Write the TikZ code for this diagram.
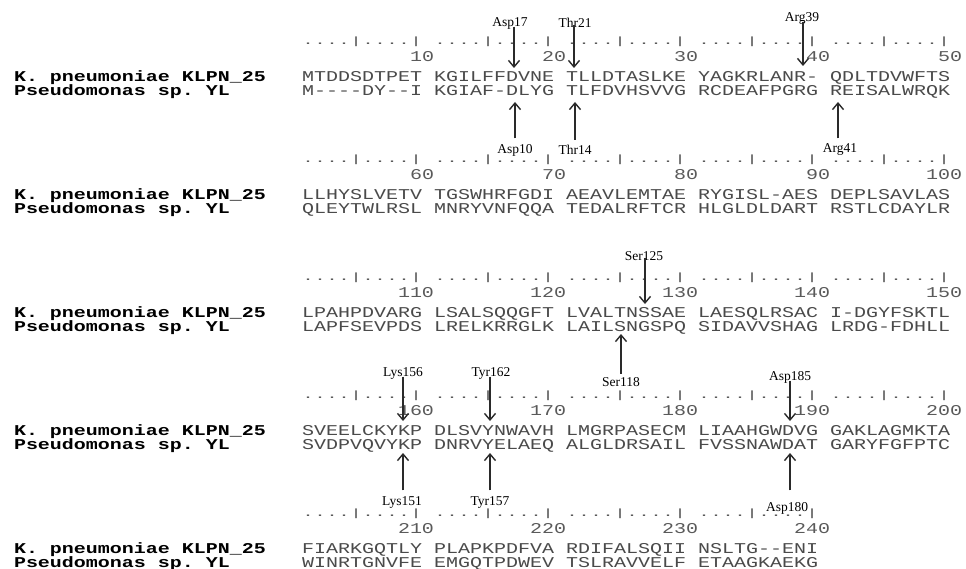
\documentclass[tikz,border=0pt]{standalone}
\usepackage{fontspec}
\usepackage{graphicx}
\usetikzlibrary{arrows.meta}
\newfontfamily\seqfont[FakeStretch=1.3333]{Liberation Mono}
\newfontfamily\labfont{Liberation Serif}
\definecolor{seqgray}{HTML}{4A4A4A}
\definecolor{rulgray}{HTML}{5A5A5A}
\definecolor{arrgray}{HTML}{2A2A2A}
\frenchspacing
\newcommand\myseqrow[3]{%
  \foreach \g [count=\i from 0] in {#3} \node[seqtxt] (#1-\i) at ({302+132*\i},#2) {\g};}
\newcommand\mynumrow[3]{%
  \foreach \n [count=\j] in {#3} \node[numtxt] (#1-\j) at ({302+132*\j},#2) {\n};}
\newcommand\myrulrow[3]{%
  \foreach \j in {1,...,#3} \node[rultxt] (#1-\j) at ({302+132*(\j-1)},#2) {\scalebox{1}[0.7]{....|....|}};}
\newcommand\mynames[3]{%
  \node[nametxt] (#1-k) at (14,#2) {K. pneumoniae KLPN\_25};
  \node[nametxt] (#1-p) at (14,#3) {Pseudomonas sp. YL};}
\begin{document}
\begin{tikzpicture}[x=1pt,y=-1pt,
  seqtxt/.style={anchor=base west, inner sep=0pt, outer sep=0pt, font=\seqfont\fontsize{15}{15}\selectfont, text=seqgray},
  rultxt/.style={seqtxt, text=rulgray},
  numtxt/.style={seqtxt, anchor=base east, text=rulgray},
  nametxt/.style={seqtxt, font=\seqfont\bfseries\fontsize{15}{15}\selectfont, text=black},
  lab/.style={font=\labfont\fontsize{13.5}{14}\selectfont, inner sep=0.5pt, text=black},
  arr/.style={draw=arrgray, line width=1.4pt, -{Straight Barb[length=6.5pt,width=11pt]}}]
\fill[white] (0,0) rectangle (966,569);
\useasboundingbox (0,0) rectangle (966,569);
% ---- block 1
\myrulrow{r1}{44.5}{5}
\mynumrow{n1}{61.5}{10,20,30,40,50}
\mynames{nm1}{81.5}{95.5}
\myseqrow{k1}{81.5}{MTDDSDTPET,KGILFFDVNE,TLLDTASLKE,YAGKRLANR-,QDLTDVWFTS}
\myseqrow{p1}{95.5}{M----DY--I,KGIAF-DLYG,TLFDVHSVVG,RCDEAFPGRG,REISALWRQK}
% ---- block 2
\myrulrow{r2}{162.5}{5}
\mynumrow{n2}{179.5}{60,70,80,90,100}
\mynames{nm2}{199.5}{213.5}
\myseqrow{k2}{199.5}{LLHYSLVETV,TGSWHRFGDI,AEAVLEMTAE,RYGISL-AES,DEPLSAVLAS}
\myseqrow{p2}{213.5}{QLEYTWLRSL,MNRYVNFQQA,TEDALRFTCR,HLGLDLDART,RSTLCDAYLR}
% ---- block 3
\myrulrow{r3}{280.5}{5}
\mynumrow{n3}{297.5}{110,120,130,140,150}
\mynames{nm3}{317.5}{331.5}
\myseqrow{k3}{317.5}{LPAHPDVARG,LSALSQQGFT,LVALTNSSAE,LAESQLRSAC,I-DGYFSKTL}
\myseqrow{p3}{331.5}{LAPFSEVPDS,LRELKRRGLK,LAILSNGSPQ,SIDAVVSHAG,LRDG-FDHLL}
% ---- block 4
\myrulrow{r4}{398.5}{5}
\mynumrow{n4}{415.5}{160,170,180,190,200}
\mynames{nm4}{435.5}{449.5}
\myseqrow{k4}{435.5}{SVEELCKYKP,DLSVYNWAVH,LMGRPASECM,LIAAHGWDVG,GAKLAGMKTA}
\myseqrow{p4}{449.5}{SVDPVQVYKP,DNRVYELAEQ,ALGLDRSAIL,FVSSNAWDAT,GARYFGFPTC}
% ---- block 5
\myrulrow{r5}{516.5}{4}
\mynumrow{n5}{533.5}{210,220,230,240}
\mynames{nm5}{553.5}{567.5}
\myseqrow{k5}{553.5}{FIARKGQTLY,PLAPKPDFVA,RDIFALSQII,NSLTG--ENI}
\myseqrow{p5}{567.5}{WINRTGNVFE,EMGQTPDWEV,TSLRAVVELF,ETAAGKAEKG}
% ---- labels and arrows, block 1
\node[lab] (Lasp17) at (510,23) {Asp17};
\node[lab] (Lthr21) at (575,23) {Thr21};
\node[lab] (Larg39) at (802,18) {Arg39};
\coordinate (Tasp17) at (514,68);
\coordinate (Tthr21) at (574,68);
\coordinate (Targ39) at (803,66);
\draw[arr, shorten <=-3pt] (Lasp17.south -| Tasp17) -- (Tasp17);
\draw[arr, shorten <=-3pt] (Lthr21.south -| Tthr21) -- (Tthr21);
\draw[arr, shorten <=-3pt] (Larg39.south -| Targ39) -- (Targ39);
\node[lab] (Lasp10) at (515,150) {Asp10};
\node[lab] (Lthr14) at (575,150) {Thr14};
\node[lab] (Larg41) at (840,150) {Arg41};
\coordinate (Tasp10) at (515,102);
\coordinate (Tthr14) at (575,102);
\coordinate (Targ41) at (838,102);
\draw[arr, shorten <=5pt] (Lasp10.north -| Tasp10) -- (Tasp10);
\draw[arr, shorten <=5pt] (Lthr14.north -| Tthr14) -- (Tthr14);
\draw[arr, shorten <=5pt] (Larg41.north -| Targ41) -- (Targ41);
% ---- block 3
\node[lab] (Lser125) at (644,256) {Ser125};
\coordinate (Tser125) at (645,304);
\draw[arr, shorten <=-3pt] (Lser125.south -| Tser125) -- (Tser125);
\node[lab] (Lser118) at (621,382) {Ser118};
\coordinate (Tser118) at (621,334);
\draw[arr, shorten <=3pt] (Lser118.north -| Tser118) -- (Tser118);
% ---- block 4
\node[lab] (Llys156) at (403,373) {Lys156};
\node[lab] (Ltyr162) at (491,373) {Tyr162};
\node[lab] (Lasp185) at (790,377) {Asp185};
\coordinate (Tlys156) at (403,421);
\coordinate (Ttyr162) at (490,421);
\coordinate (Tasp185) at (790,421);
\draw[arr, shorten <=-3pt] (Llys156.south -| Tlys156) -- (Tlys156);
\draw[arr, shorten <=-3pt] (Ltyr162.south -| Ttyr162) -- (Ttyr162);
\draw[arr, shorten <=-3pt] (Lasp185.south -| Tasp185) -- (Tasp185);
\node[lab] (Llys151) at (402,502) {Lys151};
\node[lab] (Ltyr157) at (490,502) {Tyr157};
\node[lab] (Lasp180) at (787,508) {Asp180};
\coordinate (Tlys151) at (403,453);
\coordinate (Ttyr157) at (490,453);
\coordinate (Tasp180) at (790,453);
\draw[arr, shorten <=5pt] (Llys151.north -| Tlys151) -- (Tlys151);
\draw[arr, shorten <=5pt] (Ltyr157.north -| Ttyr157) -- (Ttyr157);
\draw[arr, shorten <=11pt] (Lasp180.north -| Tasp180) -- (Tasp180);
\end{tikzpicture}
\end{document}
